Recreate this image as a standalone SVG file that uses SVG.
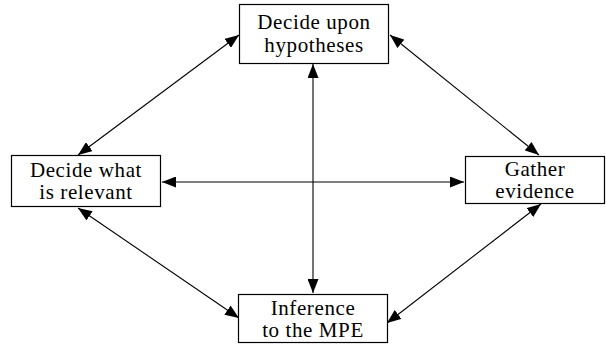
<svg xmlns="http://www.w3.org/2000/svg" width="606" height="345" viewBox="0 0 606 345">
<style>
.box{fill:#fff;stroke:#000;stroke-width:1.2}
.lbl{font-family:"Liberation Serif","Times New Roman",serif;font-size:21px;letter-spacing:0.6px;fill:#000;text-anchor:middle}
.conn{stroke:#000;stroke-width:1.1;fill:none;marker-start:url(#ah);marker-end:url(#ah)}
</style>
<defs>
<marker id="ah" markerUnits="userSpaceOnUse" markerWidth="15" markerHeight="11" refX="14" refY="5.5" orient="auto-start-reverse" viewBox="0 0 15 11">
<path d="M0,0 L14,5.5 L0,11 z" fill="#000"/>
</marker>
</defs>
<rect width="606" height="345" fill="#fff"/>
<g id="connectors">
<line class="conn" x1="239" y1="35" x2="78" y2="155"/>
<line class="conn" x1="390" y1="35" x2="539" y2="155"/>
<line class="conn" x1="78" y1="208" x2="239" y2="318"/>
<line class="conn" x1="387" y1="323" x2="541" y2="204"/>
<line class="conn" x1="313" y1="64" x2="313" y2="293"/>
<line class="conn" x1="162" y1="182" x2="464" y2="182"/>
</g>
<g id="node-hypotheses">
<rect class="box" x="239.5" y="4.5" width="149" height="59"/>
<text class="lbl" x="314" y="29">Decide upon</text>
<text class="lbl" x="314" y="52">hypotheses</text>
</g>
<g id="node-relevant">
<rect class="box" x="11.5" y="155.5" width="149" height="51"/>
<text class="lbl" x="86" y="177">Decide what</text>
<text class="lbl" x="86" y="199">is relevant</text>
</g>
<g id="node-evidence">
<rect class="box" x="465.5" y="156.5" width="139" height="47"/>
<text class="lbl" x="535" y="176">Gather</text>
<text class="lbl" x="535" y="198">evidence</text>
</g>
<g id="node-mpe">
<rect class="box" x="238.5" y="294.5" width="149" height="48"/>
<text class="lbl" x="313" y="315">Inference</text>
<text class="lbl" x="313" y="337">to the MPE</text>
</g>
</svg>
